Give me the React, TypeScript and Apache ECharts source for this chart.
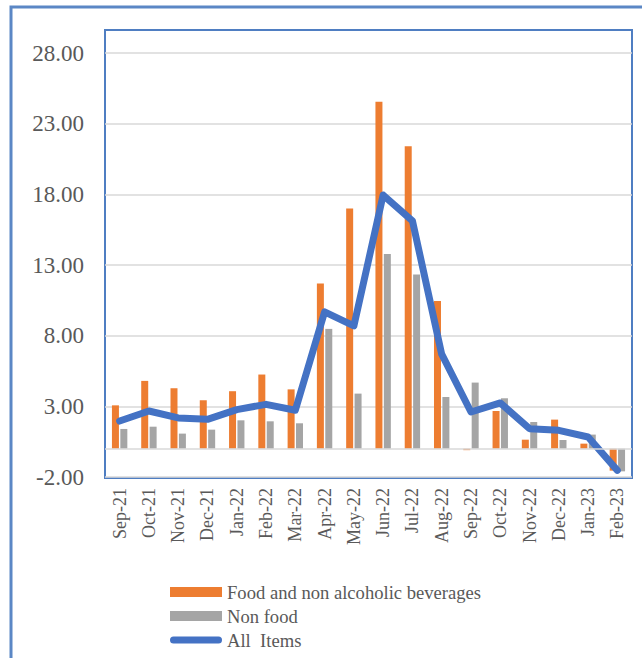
import React, { useEffect, useRef } from "react";
import * as echarts from "echarts";

// Monthly inflation by component (%)
const months = [
  "Sep-21", "Oct-21", "Nov-21", "Dec-21", "Jan-22", "Feb-22", "Mar-22", "Apr-22", "May-22",
  "Jun-22", "Jul-22", "Aug-22", "Sep-22", "Oct-22", "Nov-22", "Dec-22", "Jan-23", "Feb-23",
];
const foodValues = [
  3.07, 4.8, 4.28, 3.43, 4.07, 5.25, 4.2, 11.69, 17.0,
  24.55, 21.4, 10.46, -0.1, 2.67, 0.64, 2.06, 0.36, -1.55,
];
const nonFoodValues = [
  1.4, 1.56, 1.07, 1.35, 2.01, 1.94, 1.8, 8.48, 3.9,
  13.77, 12.33, 3.66, 4.68, 3.57, 1.89, 0.62, 1.0, -1.6,
];
const allItemsValues = [
  1.96, 2.67, 2.18, 2.08, 2.77, 3.14, 2.72, 9.68, 8.69,
  17.95, 16.13, 6.69, 2.6, 3.24, 1.42, 1.3, 0.83, -1.53,
];
const seriesNames = ["Food and non alcoholic beverages", "Non food", "All  Items"];

const FONT = "'Liberation Serif', 'Times New Roman', serif";
const TEXT_COLOR = "#595959";
// Rounded bar used as the legend icon of the line series
const CAPSULE = "path://M3.5,0 H48.5 A3.5,3.5 0 0 1 48.5,7 H3.5 A3.5,3.5 0 0 1 3.5,0 Z";

export default function App() {
  const ref = useRef<HTMLDivElement>(null);

  useEffect(() => {
    if (!ref.current) return;
    const chart = echarts.init(ref.current, undefined, { renderer: "svg" });
    chart.setOption({
      animation: false,
      backgroundColor: "#ffffff",
      grid: { left: 105, right: 10, top: 53, bottom: 181, containLabel: false },
      xAxis: {
        type: "category",
        data: months,
        axisLine: { show: false, onZero: false },
        axisTick: { show: false },
        axisLabel: {
          rotate: 90,
          margin: 11,
          fontFamily: FONT,
          fontSize: 18,
          color: TEXT_COLOR,
        },
      },
      yAxis: {
        type: "value",
        min: -2,
        max: 28,
        interval: 5,
        axisLine: { show: false },
        axisTick: { show: false },
        axisLabel: {
          margin: 21,
          fontFamily: FONT,
          fontSize: 23,
          color: TEXT_COLOR,
          formatter: (v: number) => v.toFixed(2),
        },
        splitLine: { lineStyle: { color: "#d9d9d9", width: 1.5 } },
      },
      legend: {
        orient: "vertical",
        left: 170,
        top: 582,
        height: 120,
        padding: 0,
        itemWidth: 52,
        itemHeight: 10,
        itemGap: 4,
        textStyle: { fontFamily: FONT, fontSize: 18.6, color: TEXT_COLOR, lineHeight: 20 },
        data: [
          { name: seriesNames[0], icon: "rect" },
          { name: seriesNames[1], icon: "rect" },
          { name: seriesNames[2], icon: CAPSULE },
        ],
      },
      series: [
        {
          name: seriesNames[0],
          type: "bar",
          data: foodValues,
          barWidth: 7,
          barGap: "20%",
          itemStyle: { color: "#ED7D31" },
          markLine: {
            silent: true,
            symbol: "none",
            label: { show: false },
            lineStyle: { color: "#d9d9d9", width: 1.5, type: "solid" },
            data: [{ yAxis: 0 }],
          },
          z: 2,
        },
        {
          name: seriesNames[1],
          type: "bar",
          data: nonFoodValues,
          barWidth: 7,
          itemStyle: { color: "#A5A5A5" },
          z: 2,
        },
        {
          name: seriesNames[2],
          type: "line",
          data: allItemsValues,
          symbol: "none",
          lineStyle: { color: "#4472C4", width: 7, cap: "round", join: "round" },
          itemStyle: { color: "#4472C4" },
          z: 3,
        },
      ],
      graphic: [
        {
          type: "rect",
          silent: true,
          shape: { x: 11, y: 7, width: 700, height: 700 },
          style: { fill: "none", stroke: "#5B87C5", lineWidth: 3 },
        },
        {
          type: "rect",
          silent: true,
          shape: { x: 105, y: 30, width: 527, height: 448 },
          style: { fill: "none", stroke: "#4F7EC2", lineWidth: 2 },
        },
      ],
    });
    return () => chart.dispose();
  }, []);

  return (
    <div
      ref={ref}
      style={{ position: "fixed", left: 0, top: 0, width: 642, height: 658 }}
    />
  );
}
